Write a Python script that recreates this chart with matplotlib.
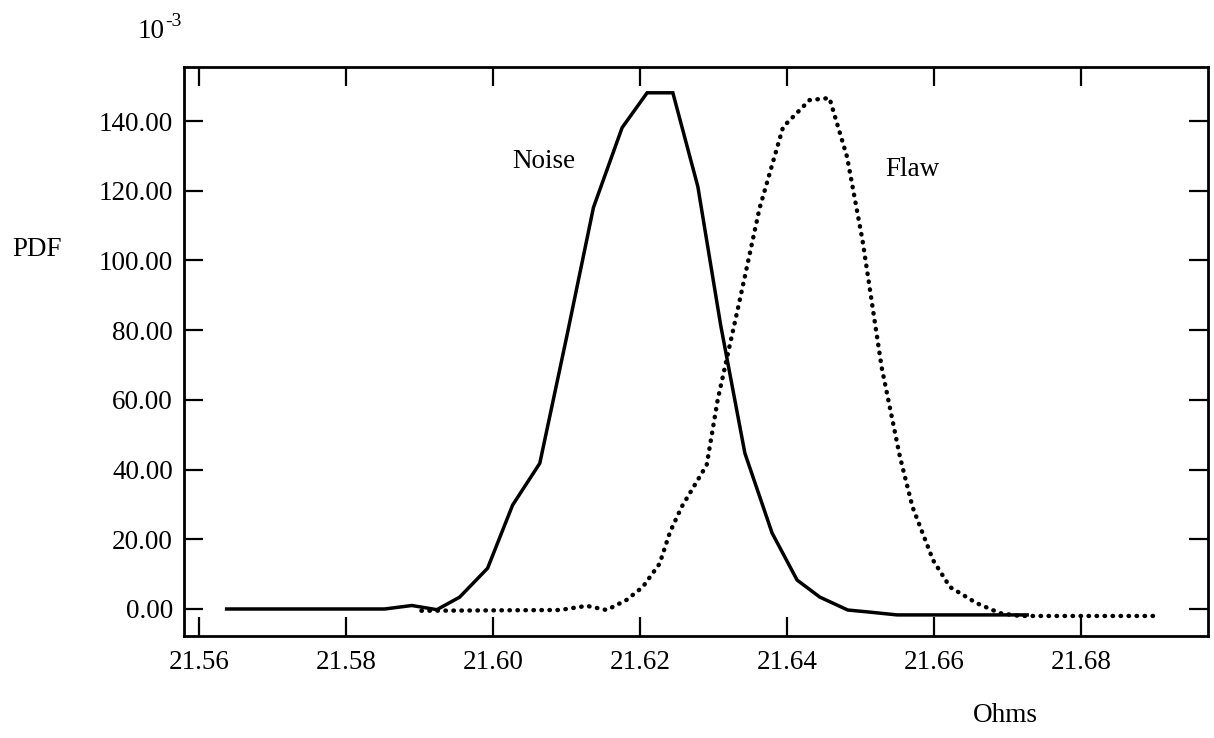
import matplotlib
matplotlib.use("Agg")
import matplotlib.pyplot as plt
from matplotlib.ticker import FixedLocator, FormatStrFormatter

plt.rcParams['font.family'] = ['Liberation Serif', 'DejaVu Serif']

# Noise PDF (x 10^-3)
noise_x = [21.5638, 21.5853, 21.5890, 21.5924, 21.5955, 21.5993, 21.6027, 21.6064,
           21.6101, 21.6137, 21.6176, 21.6210, 21.6245, 21.6279, 21.6310, 21.6343,
           21.6380, 21.6414, 21.6445, 21.6483, 21.6513, 21.6550, 21.6727]
noise_y = [0.0, 0.0, 1.0, -0.2, 3.4, 11.7, 29.8, 41.8,
           78.5, 115.2, 138.1, 148.1, 148.1, 121.2, 81.5, 44.7,
           21.8, 8.3, 3.4, -0.3, -0.9, -1.7, -1.7]

# Flaw PDF (x 10^-3)
flaw_x = [21.5903, 21.6091, 21.6128, 21.6155, 21.6182, 21.6204, 21.6227, 21.6241,
          21.6257, 21.6291, 21.6306, 21.6336, 21.6363, 21.6395, 21.6431, 21.6458,
          21.6482, 21.6503, 21.6529, 21.6554, 21.6571, 21.6599, 21.6622, 21.6658,
          21.6690, 21.6717, 21.6907]
flaw_y = [-0.5, -0.3, 0.9, -0.3, 2.6, 6.3, 13.0, 22.0,
          29.3, 41.3, 60.0, 88.6, 115.0, 138.3, 146.0, 146.6,
          129.7, 105.8, 69.4, 43.6, 29.3, 14.0, 6.3, 1.7,
          -1.2, -2.0, -2.0]

x_ticks = [21.56, 21.58, 21.60, 21.62, 21.64, 21.66, 21.68]
y_ticks = [0, 20, 40, 60, 80, 100, 120, 140]

fig = plt.figure(figsize=(12.14, 7.38), dpi=100)
ax = fig.add_axes([184/1214, 1 - 636/738, (1208 - 184)/1214, (636 - 67)/738])

ax.plot(noise_x, noise_y, color='black', lw=2.5, solid_joinstyle='miter')
ax.plot(flaw_x, flaw_y, color='black', lw=3.2, linestyle=(0, (0.1, 1.7)),
        dash_capstyle='round')

ax.set_xlim(21.5580, 21.6973)
ax.set_ylim(-7.75, 155.5)

ax.xaxis.set_major_locator(FixedLocator(x_ticks))
ax.yaxis.set_major_locator(FixedLocator(y_ticks))
ax.xaxis.set_major_formatter(FormatStrFormatter('%.2f'))
ax.yaxis.set_major_formatter(FormatStrFormatter('%.2f'))
ax.tick_params(direction='in', length=14, width=1.6, labelsize=19.5,
               top=True, right=True, pad=8)
ax.tick_params(axis='x', pad=10)
for sp in ax.spines.values():
    sp.set_linewidth(2.0)

ax.text(21.6070, 128.5, 'Noise', fontsize=19.5, ha='center', va='center')
ax.text(21.6571, 126.0, 'Flaw', fontsize=19.5, ha='center', va='center')

fig.text(37/1214, 1 - 250/738, 'PDF', fontsize=19.5, ha='center', va='center')
fig.text(165/1214, 1 - 38/738, '10', fontsize=19.5, ha='right', va='baseline')
fig.text(165/1214, 1 - 26/738, '-3', fontsize=14, ha='left', va='baseline')
fig.text(1005/1214, 1 - 715/738, 'Ohms', fontsize=19.5, ha='center', va='center')

fig.savefig('out.png', dpi=100)
